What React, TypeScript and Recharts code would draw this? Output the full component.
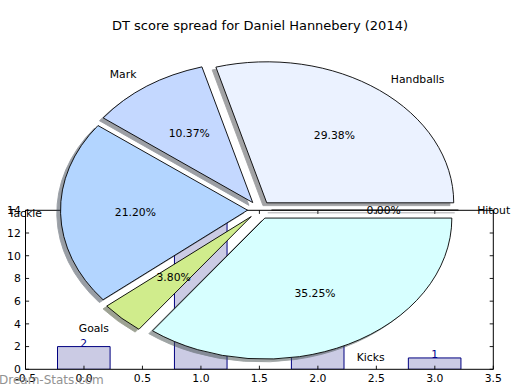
import React from 'react';
import { BarChart, Bar, XAxis, YAxis, LabelList, PieChart, Pie } from 'recharts';

// ---------- data ----------
const pieLabels = ['Handballs', 'Mark', 'Tackle', 'Goals', 'Kicks', 'Hitout'];
const piePercents = [29.38, 10.37, 21.2, 3.8, 35.25, 0.0];
const pieColors = ['#ebf2ff', '#c4d8ff', '#b3d5ff', '#d0ec8c', '#d7ffff', '#e6e6ff'];

const barPositions = [0, 1, 2, 3];
const barValues = [2, 13, 8, 1];

const xTicks = [-0.5, 0, 0.5, 1, 1.5, 2, 2.5, 3, 3.5];
const yTicks = [0, 2, 4, 6, 8, 10, 12, 14];

const titleText = 'DT score spread for Daniel Hannebery (2014)';
const watermarkText = 'Dream-Stats.com';

// ---------- styling ----------
const W = 520;
const H = 390;
const FONT = '"DejaVu Sans", Verdana, sans-serif';
const FS = 10.8;
const PLOT = { left: 25.5, right: 493.3, top: 210.3, bottom: 369.3 };
const AX_BOTTOM_H = 20;
const AX_TOP_H = 10;
const AX_LEFT_W = 25;
const AX_RIGHT_W = 10;
const PIE_CX = 259.5;
const PIE_CY = 210;
const PIE_R = 187;
const ASPECT = 141 / 187;
const EXPLODE = 0.064;
const SHADOW_DX = -0.02;
const SHADOW_DY = 0.02;
const RAD = Math.PI / 180;
const TICK_LEN = 3.6;

const pieData = pieLabels.map((name, i) => ({ name, value: piePercents[i], fill: pieColors[i] }));
const barData = barPositions.map((x, i) => ({ x, value: barValues[i] }));

function shade(hex: string): string {
  const n = parseInt(hex.slice(1), 16);
  const r = Math.round(((n >> 16) & 255) * 0.3);
  const g = Math.round(((n >> 8) & 255) * 0.3);
  const b = Math.round((n & 255) * 0.3);
  return `rgb(${r},${g},${b})`;
}

function wedgePath(cx: number, cy: number, r: number, a0: number, a1: number, mid: number, dx: number, dy: number): string {
  const rx = r;
  const ry = r * ASPECT;
  const ox = cx + EXPLODE * rx * Math.cos(mid * RAD) + dx * rx;
  const oy = cy - EXPLODE * ry * Math.sin(mid * RAD) + dy * ry;
  const p0x = ox + rx * Math.cos(a0 * RAD);
  const p0y = oy - ry * Math.sin(a0 * RAD);
  const p1x = ox + rx * Math.cos(a1 * RAD);
  const p1y = oy - ry * Math.sin(a1 * RAD);
  if (Math.abs(a1 - a0) < 1e-6) return `M${ox},${oy}L${p0x},${p0y}`;
  const large = Math.abs(a1 - a0) > 180 ? 1 : 0;
  return `M${ox},${oy}L${p0x},${p0y}A${rx},${ry} 0 ${large} 0 ${p1x},${p1y}Z`;
}

const WedgeShape = (p: any) => {
  const d = wedgePath(p.cx, p.cy, p.outerRadius, p.startAngle, p.endAngle, p.midAngle, 0, 0);
  return <path d={d} fill={p.fill} stroke="#000" strokeWidth={0.9} strokeLinejoin="round" />;
};

const ShadowShape = (p: any) => {
  const d = wedgePath(p.cx, p.cy, p.outerRadius, p.startAngle, p.endAngle, p.midAngle, SHADOW_DX, SHADOW_DY);
  const c = shade(p.payload?.fill ?? p.fill ?? '#cccccc');
  return <path d={d} fill={c} stroke={c} strokeWidth={0.9} opacity={0.5} />;
};

const renderPieLabel = (p: any) => {
  const mid = p.midAngle;
  const rx = p.outerRadius;
  const ry = rx * ASPECT;
  const c = Math.cos(mid * RAD);
  const s = Math.sin(mid * RAD);
  const nx = p.cx + (EXPLODE + 1.1) * rx * c;
  const ny = p.cy - (EXPLODE + 1.1) * ry * s;
  const px = p.cx + (EXPLODE + 0.6) * rx * c;
  const py = p.cy - (EXPLODE + 0.6) * ry * s;
  const name = p.name ?? p.payload?.name;
  const value = Number(p.value ?? p.payload?.value);
  const base = FS * 0.346;
  return (
    <g>
      <text x={nx} y={ny + base} textAnchor={c >= 0 ? 'start' : 'end'} fontFamily={FONT} fontSize={FS} fill="#000">
        {name}
      </text>
      <text x={px} y={py + base} textAnchor="middle" fontFamily={FONT} fontSize={FS} fill="#000">
        {value.toFixed(2) + '%'}
      </text>
    </g>
  );
};

const fmtX = (v: number) => (v < 0 ? '-' : '') + Math.abs(v).toFixed(1);

// Ticks are drawn inward from the plot box edges (matplotlib style)
const XBottomTick = (p: any) => (
  <g>
    <line x1={p.x} x2={p.x} y1={PLOT.bottom} y2={PLOT.bottom - TICK_LEN} stroke="#000" strokeWidth={0.9} />
    <text x={p.x} y={PLOT.bottom + 12.7} textAnchor="middle" fontFamily={FONT} fontSize={FS} fill="#000">
      {fmtX(p.payload.value)}
    </text>
  </g>
);
const XTopTick = (p: any) => (
  <line x1={p.x} x2={p.x} y1={PLOT.top} y2={PLOT.top + TICK_LEN} stroke="#000" strokeWidth={0.9} />
);
const YLeftTick = (p: any) => (
  <g>
    <line x1={PLOT.left} x2={PLOT.left + TICK_LEN} y1={p.y} y2={p.y} stroke="#000" strokeWidth={0.9} />
    <text x={PLOT.left - 4.7} y={p.y + 3.9} textAnchor="end" fontFamily={FONT} fontSize={FS} fill="#000">
      {String(p.payload.value)}
    </text>
  </g>
);
const YRightTick = (p: any) => (
  <line x1={PLOT.right} x2={PLOT.right - TICK_LEN} y1={p.y} y2={p.y} stroke="#000" strokeWidth={0.9} />
);

const BarValueLabel = (p: any) => (
  <text x={p.x + p.width / 2} y={p.y} textAnchor="middle" fontFamily={FONT} fontSize={FS} fill="#00008b">
    {String(p.value)}
  </text>
);

export default function App() {
  return (
    <div style={{ position: 'absolute', left: 0, top: 0, width: W, height: H, background: '#fff' }}>
      <div style={{ position: 'absolute', left: 0, top: 0 }}>
        <BarChart
          width={W}
          height={H}
          data={barData}
          margin={{
            top: PLOT.top - AX_TOP_H,
            left: PLOT.left - AX_LEFT_W,
            right: W - PLOT.right - AX_RIGHT_W,
            bottom: H - PLOT.bottom - AX_BOTTOM_H,
          }}
        >
          <XAxis
            dataKey="x"
            type="number"
            domain={[-0.5, 3.5]}
            allowDataOverflow
            ticks={xTicks}
            interval={0}
            height={AX_BOTTOM_H}
            tickSize={0}
            tickMargin={0}
            tickLine={false}
            axisLine={{ stroke: '#000', strokeWidth: 1 }}
            tick={(p: any) => <XBottomTick {...p} />}
          />
          <XAxis
            xAxisId="top"
            orientation="top"
            dataKey="x"
            type="number"
            domain={[-0.5, 3.5]}
            allowDataOverflow
            ticks={xTicks}
            interval={0}
            height={AX_TOP_H}
            tickSize={0}
            tickMargin={0}
            tickLine={false}
            axisLine={{ stroke: '#000', strokeWidth: 1 }}
            tick={(p: any) => <XTopTick {...p} />}
          />
          <YAxis
            type="number"
            domain={[0, 14]}
            allowDataOverflow
            ticks={yTicks}
            interval={0}
            width={AX_LEFT_W}
            tickSize={0}
            tickMargin={0}
            tickLine={false}
            axisLine={{ stroke: '#000', strokeWidth: 1 }}
            tick={(p: any) => <YLeftTick {...p} />}
          />
          <YAxis
            yAxisId="right"
            orientation="right"
            type="number"
            domain={[0, 14]}
            allowDataOverflow
            ticks={yTicks}
            interval={0}
            width={AX_RIGHT_W}
            tickSize={0}
            tickMargin={0}
            tickLine={false}
            axisLine={{ stroke: '#000', strokeWidth: 1 }}
            tick={(p: any) => <YRightTick {...p} />}
          />
          <Bar dataKey="value" barSize={52.6} fill="#cbcbe4" stroke="#000080" strokeWidth={1} isAnimationActive={false}>
            <LabelList dataKey="value" content={(p: any) => <BarValueLabel {...p} />} />
          </Bar>
        </BarChart>
      </div>
      <div style={{ position: 'absolute', left: 0, top: 0 }}>
        <PieChart width={W} height={H} margin={{ top: 0, right: 0, bottom: 0, left: 0 }}>
          <Pie
            data={pieData}
            dataKey="value"
            nameKey="name"
            cx={PIE_CX}
            cy={PIE_CY}
            outerRadius={PIE_R}
            startAngle={0}
            endAngle={360}
            stroke="none"
            shape={ShadowShape}
            inactiveShape={ShadowShape}
            activeShape={ShadowShape}
            label={false}
            labelLine={false}
            isAnimationActive={false}
          />
          <Pie
            data={pieData}
            dataKey="value"
            nameKey="name"
            cx={PIE_CX}
            cy={PIE_CY}
            outerRadius={PIE_R}
            startAngle={0}
            endAngle={360}
            shape={WedgeShape}
            inactiveShape={WedgeShape}
            activeShape={WedgeShape}
            label={renderPieLabel}
            labelLine={false}
            isAnimationActive={false}
          />
        </PieChart>
      </div>
      <svg width={W} height={H} style={{ position: 'absolute', left: 0, top: 0, pointerEvents: 'none' }}>
        <text x={260} y={30} textAnchor="middle" fontFamily={FONT} fontSize={13} fill="#000">
          {titleText}
        </text>
        <text x={-1} y={384} textAnchor="start" fontFamily={FONT} fontSize={12} fill="#808080" opacity={0.85}>
          {watermarkText}
        </text>
      </svg>
    </div>
  );
}
